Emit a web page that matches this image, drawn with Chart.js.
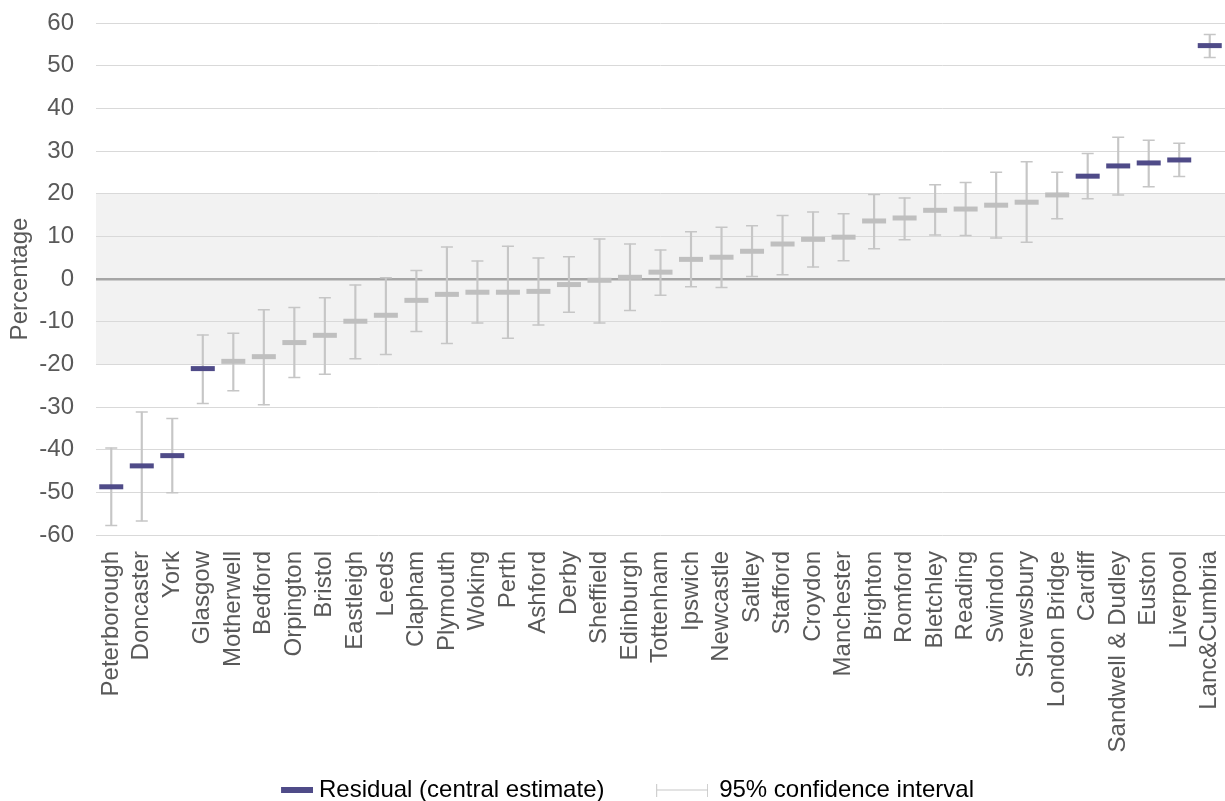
<!DOCTYPE html>
<html>
<head>
<meta charset="utf-8">
<title>Depot residuals</title>
<script src="https://cdn.jsdelivr.net/npm/chart.js@4.4.1/dist/chart.umd.min.js"></script>
<style>
  html, body { margin: 0; padding: 0; background: #ffffff; }
  #wrap { width: 1225px; height: 801px; position: relative; }
</style>
</head>
<body>
<div id="wrap"><canvas id="chart"></canvas></div>
<script>
// Depots, ordered by residual
const depots = [
  'Peterborough', 'Doncaster', 'York', 'Glasgow', 'Motherwell', 'Bedford',
  'Orpington', 'Bristol', 'Eastleigh', 'Leeds', 'Clapham', 'Plymouth',
  'Woking', 'Perth', 'Ashford', 'Derby', 'Sheffield', 'Edinburgh',
  'Tottenham', 'Ipswich', 'Newcastle', 'Saltley', 'Stafford', 'Croydon',
  'Manchester', 'Brighton', 'Romford', 'Bletchley', 'Reading', 'Swindon',
  'Shrewsbury', 'London Bridge', 'Cardiff', 'Sandwell & Dudley', 'Euston',
  'Liverpool', 'Lanc&Cumbria'
];

// Residual (central estimate), %
const residual = [
  -48.7, -43.8, -41.4, -21.0, -19.3, -18.2,
  -14.9, -13.2, -9.9, -8.5, -5.0, -3.6,
  -3.1, -3.1, -2.9, -1.3, -0.3, 0.4,
  1.6, 4.6, 5.1, 6.5, 8.2, 9.3,
  9.8, 13.6, 14.3, 16.1, 16.4, 17.3,
  18.0, 19.7, 24.1, 26.5, 27.2,
  27.9, 54.7
];

// 95% confidence interval, lower bound
const ciLow = [
  -57.8, -56.7, -50.1, -29.2, -26.2, -29.5,
  -23.1, -22.3, -18.7, -17.7, -12.3, -15.1,
  -10.3, -13.9, -10.8, -7.8, -10.3, -7.4,
  -3.8, -1.8, -2.0, 0.6, 1.0, 2.8,
  4.3, 7.1, 9.2, 10.3, 10.2, 9.6,
  8.6, 14.1, 18.8, 19.7, 21.6,
  24.0, 51.9
];

// 95% confidence interval, upper bound
const ciHigh = [
  -39.6, -31.2, -32.7, -13.1, -12.7, -7.2,
  -6.7, -4.4, -1.4, 0.3, 2.0, 7.5,
  4.2, 7.7, 4.9, 5.2, 9.4, 8.2,
  6.8, 11.1, 12.1, 12.5, 14.9, 15.7,
  15.3, 19.8, 19.0, 22.1, 22.6, 25.0,
  27.5, 25.0, 29.4, 33.2, 32.5,
  31.8, 57.3
];

// Axis range and the shaded "expected" band
const yMin = -60, yMax = 60, yStep = 10;
const bandLow = -20, bandHigh = 20;

const PURPLE = '#4F4B88';
const LIGHT = '#BFBFBF';
const WHISKER = '#C6C6C6';
const TEXT = '#595959';
const FONT = "'Liberation Sans', Arial, sans-serif";

Chart.defaults.font.family = FONT;
Chart.defaults.font.size = 24;
Chart.defaults.color = TEXT;

const markColor = v => (v < bandLow || v > bandHigh) ? PURPLE : LIGHT;

// Light grey band behind the grid between bandLow and bandHigh
const bandPlugin = {
  id: 'band',
  beforeDraw(chart) {
    const { ctx, chartArea: a, scales: { y } } = chart;
    const top = y.getPixelForValue(bandHigh);
    const bottom = y.getPixelForValue(bandLow);
    ctx.save();
    ctx.fillStyle = '#F2F2F2';
    ctx.fillRect(a.left, top, a.right - a.left, bottom - top);
    ctx.restore();
  }
};

// Legend swatches
function glyph(w, h, paint) {
  const c = document.createElement('canvas');
  c.width = w; c.height = h;
  paint(c.getContext('2d'));
  return c;
}
const residualGlyph = glyph(68, 6, g => {
  g.fillStyle = PURPLE;
  g.fillRect(36, 0, 32, 6);
});
const ciGlyph = glyph(58, 13, g => {
  g.strokeStyle = WHISKER;
  g.lineWidth = 1;
  g.beginPath();
  g.moveTo(6.5, 0); g.lineTo(6.5, 13);
  g.moveTo(57.5, 0); g.lineTo(57.5, 13);
  g.moveTo(6, 6.5); g.lineTo(58, 6.5);
  g.stroke();
});

new Chart(document.getElementById('chart'), {
  type: 'bar',
  data: {
    labels: depots,
    datasets: [
      {
        type: 'line',
        label: 'Residual (central estimate)',
        data: residual,
        showLine: false,
        pointStyle: 'line',
        pointRadius: 12,
        pointHoverRadius: 12,
        pointBorderWidth: 5,
        pointHoverBorderWidth: 5,
        pointBorderColor: ctx => markColor(ctx.raw),
        pointBackgroundColor: ctx => markColor(ctx.raw),
        order: 0
      },
      {
        type: 'line',
        label: 'CI low cap',
        data: ciLow,
        showLine: false,
        pointStyle: 'line',
        pointRadius: 6,
        pointHoverRadius: 6,
        pointBorderWidth: 1.5,
        pointBorderColor: WHISKER,
        order: 1
      },
      {
        type: 'line',
        label: 'CI high cap',
        data: ciHigh,
        showLine: false,
        pointStyle: 'line',
        pointRadius: 6,
        pointHoverRadius: 6,
        pointBorderWidth: 1.5,
        pointBorderColor: WHISKER,
        order: 1
      },
      {
        type: 'bar',
        label: '95% confidence interval',
        data: depots.map((_, i) => [ciLow[i], ciHigh[i]]),
        backgroundColor: WHISKER,
        borderWidth: 0,
        barThickness: 1.5,
        order: 2
      }
    ]
  },
  options: {
    responsive: true,
    maintainAspectRatio: false,
    animation: false,
    devicePixelRatio: 1,
    events: [],
    layout: { autoPadding: false, padding: { top: 23, right: 0, bottom: -11, left: 0 } },
    scales: {
      x: {
        type: 'category',
        offset: true,
        grid: { display: false },
        border: { display: false },
        ticks: {
          autoSkip: false,
          minRotation: 90,
          maxRotation: 90,
          padding: 8,
          color: TEXT,
          font: { size: 24 }
        },
        afterFit(scale) {
          scale.height = 223;
          scale.paddingLeft = 0;
          scale.paddingRight = 0;
        }
      },
      y: {
        min: yMin,
        max: yMax,
        border: { display: false },
        grid: {
          drawTicks: false,
          color: ctx => (ctx.tick && ctx.tick.value === 0) ? '#A6A6A6' : '#D9D9D9',
          lineWidth: ctx => (ctx.tick && ctx.tick.value === 0) ? 2.5 : 1
        },
        ticks: {
          stepSize: yStep,
          padding: 22,
          color: TEXT,
          font: { size: 24 }
        },
        title: {
          display: true,
          text: 'Percentage',
          color: TEXT,
          font: { size: 24 },
          padding: { top: 6, bottom: 0 }
        },
        afterFit(scale) {
          scale.width = 96;
          scale.paddingTop = 0;
          scale.paddingBottom = 0;
        }
      }
    },
    plugins: {
      tooltip: { enabled: false },
      legend: {
        position: 'bottom',
        labels: {
          usePointStyle: true,
          pointStyleWidth: 56,
          padding: 20,
          color: TEXT,
          font: { size: 24 },
          generateLabels: () => [
            { text: 'Residual (central estimate)    ', pointStyle: residualGlyph, fillStyle: PURPLE,
              strokeStyle: PURPLE, lineWidth: 0, hidden: false, datasetIndex: 0 },
            { text: '95% confidence interval', pointStyle: ciGlyph, fillStyle: WHISKER,
              strokeStyle: WHISKER, lineWidth: 0, hidden: false, datasetIndex: 3 }
          ]
        }
      }
    }
  },
  plugins: [bandPlugin]
});
</script>
</body>
</html>
